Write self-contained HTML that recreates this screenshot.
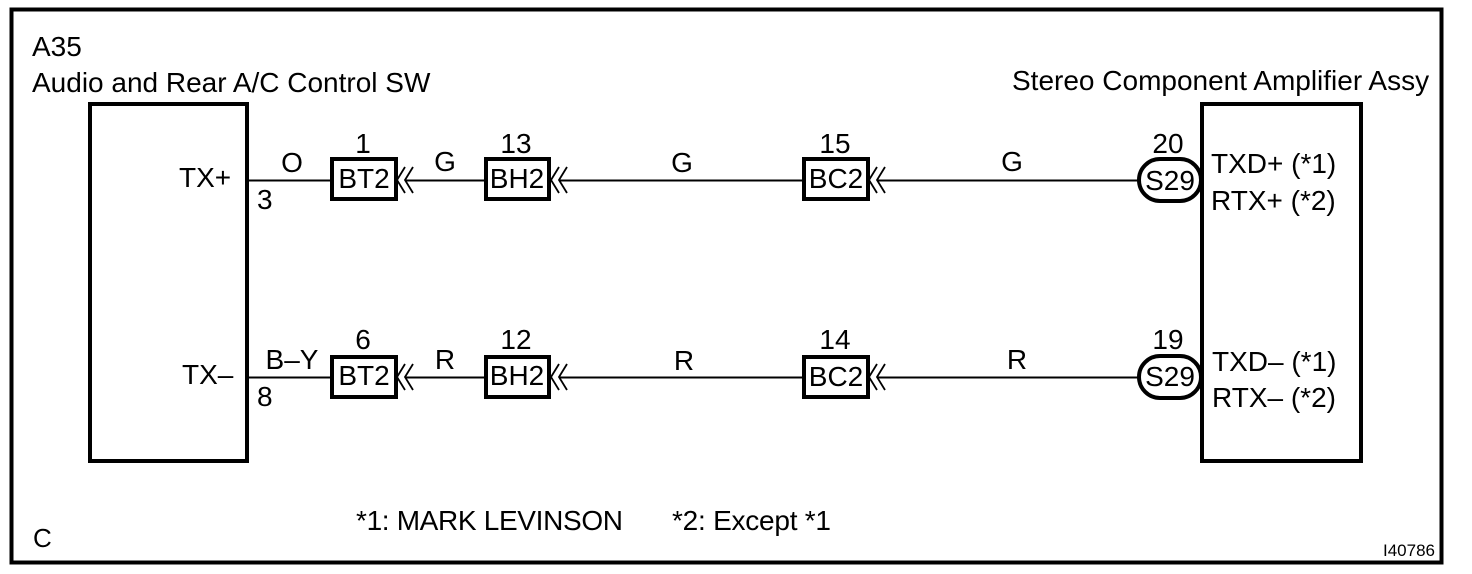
<!DOCTYPE html>
<html><head><meta charset="utf-8">
<style>
html,body{margin:0;padding:0;background:#fff;width:1472px;height:574px;overflow:hidden}
svg{display:block}
text{font-family:"Liberation Sans",sans-serif;font-size:28px;fill:#000}
.m{text-anchor:middle}
.b{fill:#fff;stroke:#000;stroke-width:4}
.l{stroke:#000;stroke-width:2;fill:none}
.a{stroke:#000;stroke-width:1.8;fill:none}
</style></head><body>
<svg width="1472" height="574" viewBox="0 0 1472 574">
<defs>
<g id="ch"><path class="a" d="M9 -13L1 0L9 13M17 -13L9 0L17 13"/></g>
</defs>
<rect x="11.5" y="9.500" width="1430" height="553" fill="#fff" stroke="#000" stroke-width="4"/>
<rect x="90" y="104" width="157" height="357" class="b"/>
<rect x="1202" y="104" width="159" height="357" class="b"/>

<path class="l" d="M248 180.500H332M405 180.500H486M559 180.500H804M877 180.500H1140"/>
<path class="l" d="M248 377.500H332M405 377.500H486M559 377.500H804M877 377.500H1140"/>

<rect x="332" y="159" width="64" height="40" class="b"/>
<rect x="486" y="159" width="63" height="40" class="b"/>
<rect x="804" y="159" width="64" height="40" class="b"/>
<rect x="332" y="357" width="64" height="40" class="b"/>
<rect x="486" y="357" width="63" height="40" class="b"/>
<rect x="804" y="357" width="64" height="40" class="b"/>
<rect x="1139" y="159" width="62" height="42" rx="21" class="b"/>
<rect x="1139" y="356" width="62" height="42" rx="21" class="b"/>

<use href="#ch" x="396" y="180"/><use href="#ch" x="550" y="180"/><use href="#ch" x="868" y="180"/>
<use href="#ch" x="396" y="377"/><use href="#ch" x="550" y="377"/><use href="#ch" x="868" y="377"/>

<text x="32" y="56">A35</text>
<text x="32" y="92">Audio and Rear A/C Control SW</text>
<text x="1012" y="90">Stereo Component Amplifier Assy</text>
<text x="179" y="187">TX+</text>
<text x="182" y="384">TX–</text>
<text x="257" y="209">3</text>
<text x="257" y="406">8</text>

<text class="m" x="292" y="172">O</text>
<text class="m" x="445" y="171">G</text>
<text class="m" x="682" y="172">G</text>
<text class="m" x="1012" y="171">G</text>
<text class="m" x="292" y="369">B–Y</text>
<text class="m" x="445" y="369">R</text>
<text class="m" x="684" y="370">R</text>
<text class="m" x="1017" y="369">R</text>

<text class="m" x="363" y="153">1</text>
<text class="m" x="516" y="153">13</text>
<text class="m" x="835" y="153">15</text>
<text class="m" x="1168" y="153">20</text>
<text class="m" x="363" y="349">6</text>
<text class="m" x="516" y="349">12</text>
<text class="m" x="835" y="349">14</text>
<text class="m" x="1168" y="349">19</text>

<text class="m" x="364" y="188">BT2</text>
<text class="m" x="517" y="188">BH2</text>
<text class="m" x="836" y="188">BC2</text>
<text class="m" x="364" y="385">BT2</text>
<text class="m" x="517" y="385">BH2</text>
<text class="m" x="836" y="386">BC2</text>
<text class="m" x="1170" y="190">S29</text>
<text class="m" x="1170" y="386">S29</text>

<text x="1211" y="173">TXD+ (*1)</text>
<text x="1211" y="210">RTX+ (*2)</text>
<text x="1212" y="371">TXD– (*1)</text>
<text x="1212" y="407">RTX– (*2)</text>

<text x="356" y="530" textLength="267">*1: MARK LEVINSON</text>
<text x="672" y="530" textLength="159">*2: Except *1</text>
<text x="33" y="547" style="font-size:26px">C</text>
<text x="1383" y="556" style="font-size:17px">I40786</text>
</svg>
</body></html>
